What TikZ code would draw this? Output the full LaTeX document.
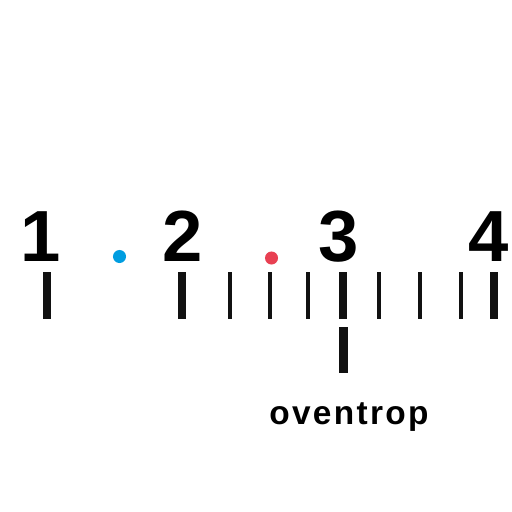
\documentclass[tikz,border=0pt]{standalone}
\usepackage{fontspec}
\setmainfont{Liberation Sans}
\newfontfamily\brandfont[LetterSpace = 7]{Liberation Sans}
\definecolor{dotblue}{RGB}{0,157,224}
\definecolor{dotred}{RGB}{232,64,82}
\definecolor{tickblack}{RGB}{17,17,17}
\usetikzlibrary{positioning}

\tikzset{
    digit/.style = {anchor = base, inner sep = 0pt, font = \fontsize{20.6}{24}\bfseries},
    brandtext/.style = {anchor = base, inner sep = 0pt, font = \fontsize{9.5}{11}\brandfont\bfseries},
    bigtick/.style = {draw = tickblack, line width = 0.085cm},
    thintick/.style = {draw = tickblack, line width = 0.04cm},
    dot/.style = {circle, inner sep = 0pt, minimum size = 0.13cm}
}

\begin{document}
\begin{tikzpicture}[x = 0.01cm, y = -0.01cm]
    \def \ticktop {272}
    \def \tickbot {319}

    \useasboundingbox (0,0) rectangle (512,512);

    %% numbers over the scale
    \foreach \x/\n in {41/1, 183/2, 339/3, 488.5/4}
    {
        \node [digit] (num\n) at (\x,261) {\n};
    }

    %% main and small ticks
    \foreach \x in {47, 182, 343, 494}
    {
        \draw [bigtick] (\x,\ticktop) -- (\x,\tickbot);
    }
    \foreach \x in {230, 270, 308, 379, 420, 461}
    {
        \draw [thintick] (\x,\ticktop) -- (\x,\tickbot);
    }

    %% marker below 3
    \coordinate (marktop) at (343,327);
    \coordinate (markbot) at (343,373);
    \draw [bigtick, line width = 0.09cm] (marktop) -- (markbot);

    %%%%%%%%%%%%%%%%%%%%%%%%%%%%%%%%

    \node [dot, fill = dotblue] (bluedot) at (119.5,256.5) {};
    \node [dot, fill = dotred] (reddot) at (271.5,258) {};

    \node [brandtext] (brand) at (349,424) {oventrop};

\end{tikzpicture}
\end{document}
